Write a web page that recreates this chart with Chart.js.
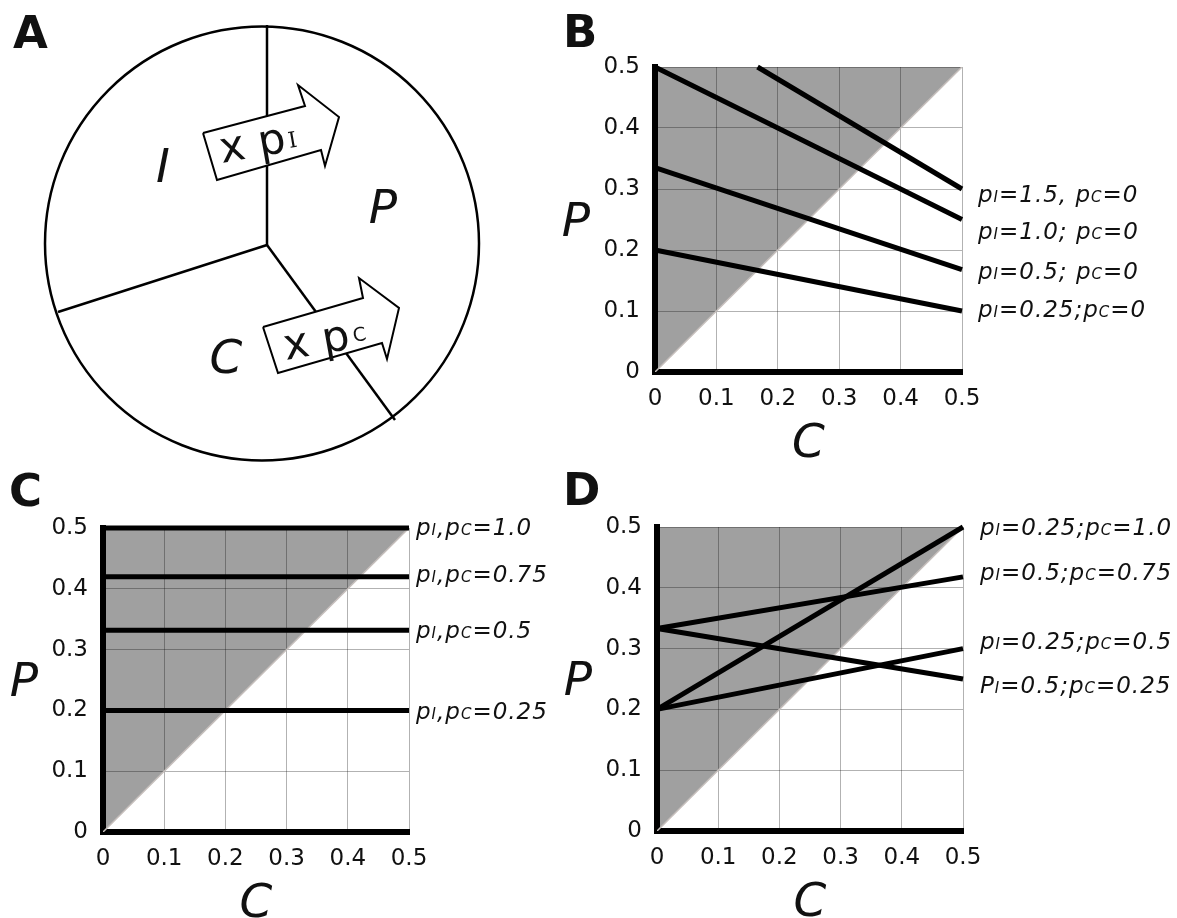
<!DOCTYPE html>
<html><head><meta charset="utf-8">
<script src="https://cdn.jsdelivr.net/npm/chart.js@4.4.1/dist/chart.umd.min.js"></script>
<style>
html,body{margin:0;padding:0;background:#fff;}
#wrap{position:relative;width:1177px;height:918px;overflow:hidden;background:#fff;}
canvas{position:absolute;left:0;top:0;}
</style></head><body>
<div id="wrap">
<canvas id="cA" width="1177" height="918"></canvas>
<canvas id="cB" width="1177" height="918"></canvas>
<canvas id="cC" width="1177" height="918"></canvas>
<canvas id="cD" width="1177" height="918"></canvas>
</div>
<script>
// ---------------- data ----------------
const tickValues = [0, 0.1, 0.2, 0.3, 0.4, 0.5];
const tickLabels = ['0', '0.1', '0.2', '0.3', '0.4', '0.5'];
const axisMin = 0, axisMax = 0.5;
const diagC = [0, 0.5];
const diagP = [0, 0.5];

// Panel B: p_C = 0, p_I varies
const bLabels = ['p_I=1.5, p_C=0', 'p_I=1.0; p_C=0', 'p_I=0.5; p_C=0', 'p_I=0.25;p_C=0'];
const bStartC = [0.167, 0, 0, 0];
const bStartP = [0.5, 0.5, 0.335, 0.2];
const bEndC = [0.5, 0.5, 0.5, 0.5];
const bEndP = [0.3, 0.25, 0.168, 0.1];

// Panel C: p_I = p_C
const cLabels = ['p_I,p_C=1.0', 'p_I,p_C=0.75', 'p_I,p_C=0.5', 'p_I,p_C=0.25'];
const cLevels = [0.5, 0.42, 0.332, 0.2];

// Panel D: mixed
const dLabels = ['p_I=0.25;p_C=1.0', 'p_I=0.5;p_C=0.75', 'p_I=0.25;p_C=0.5', 'P_I=0.5;p_C=0.25'];
const dStartP = [0.2, 0.333, 0.2, 0.333];
const dEndP = [0.5, 0.418, 0.3, 0.25];

// Panel A diagram geometry (page pixel units)
const circle = {x: 262, y: 243.5, r: 217};
const hub = {x: 267, y: 245};
const spokeEnds = [{x: 267, y: 25}, {x: 58, y: 312}, {x: 395, y: 420}];
const arrowI = [[203,133],[305,106],[298,85],[339,117],[325,166],[321,150],[217,180]];
const arrowC = [[263,327],[363,298],[359,278],[399,308],[387,359],[382,343],[278,373]];

// ---------------- helpers ----------------
const FONT = '"DejaVu Sans", Verdana, sans-serif';
const W = 1177, H = 918;
Chart.defaults.font.family = FONT;

function drawRich(ctx, str, x, y, size) {
  const runs = [];
  for (let i = 0; i < str.length; i++) {
    if (str[i] === '_') { runs.push({t: str[i + 1], sub: true}); i++; }
    else {
      const last = runs[runs.length - 1];
      if (last && !last.sub) last.t += str[i]; else runs.push({t: str[i], sub: false});
    }
  }
  ctx.textAlign = 'left'; ctx.textBaseline = 'alphabetic';
  try { ctx.letterSpacing = '1px'; } catch (e) {}
  for (const r of runs) {
    ctx.font = 'italic ' + (r.sub ? Math.round(size * 0.64) : size) + 'px ' + FONT;
    ctx.fillText(r.t, x, y);
    x += ctx.measureText(r.t).width;
  }
  try { ctx.letterSpacing = '0px'; } catch (e) {}
}

function pts(cs, ps) { return cs.map((c, i) => ({x: c, y: ps[i]})); }

function plotChart(id, box, lineData, labels, ends, dx, nudge, letter, letterXY) {
  const yW = 80, xH = 60;
  const datasets = lineData.map(d => ({
    type: 'line', data: d, borderColor: '#000', borderWidth: 5, pointRadius: 0,
    fill: false, tension: 0, borderCapStyle: 'butt', clip: 8
  }));
  datasets.push({
    type: 'line', data: pts(diagC, diagP), borderColor: '#c6bfbc', borderWidth: 1.5,
    pointRadius: 0, tension: 0, fill: 'end', backgroundColor: 'rgba(0,0,0,0.373)'
  });
  const scaleBase = {
    type: 'linear', min: axisMin, max: axisMax,
    afterBuildTicks: s => { s.ticks = tickValues.map(v => ({value: v})); },
    grid: {color: 'rgba(0,0,0,0.3)', lineWidth: 1, drawTicks: false},
    border: {display: true, color: '#000', width: 6}
  };
  const txt = {
    id: 'txt_' + id,
    afterDraw(chart) {
      const ctx = chart.ctx, a = chart.chartArea, ys = chart.scales.y;
      ctx.save();
      ctx.fillStyle = '#111';
      labels.forEach((t, i) => {
        const y = ys.getPixelForValue(ends[i]) + nudge[i];
        drawRich(ctx, t, a.right + dx, y + 8.4, 23);
      });
      ctx.font = 'italic 47px ' + FONT;
      ctx.textAlign = 'center'; ctx.textBaseline = 'alphabetic';
      ctx.fillText('C', (a.left + a.right) / 2, a.bottom + 85);
      ctx.fillText('P', a.left - 79, (a.top + a.bottom) / 2 + 16);
      ctx.font = 'bold 45px ' + FONT; ctx.textAlign = 'left';
      ctx.fillText(letter, letterXY[0], letterXY[1]);
      ctx.restore();
    }
  };
  return new Chart(document.getElementById(id), {
    type: 'line',
    data: {datasets},
    options: {
      responsive: false, animation: false, events: [],
      layout: {padding: {left: box.left - yW, right: W - box.right, top: box.top, bottom: H - box.bottom - xH}},
      plugins: {legend: {display: false}, tooltip: {enabled: false}},
      scales: {
        x: Object.assign({}, scaleBase, {
          afterFit: s => { s.height = xH; },
          ticks: {callback: (v, i) => tickLabels[i], font: {family: FONT, size: 23}, color: '#111',
                  padding: 13, maxRotation: 0, minRotation: 0, autoSkip: false}
        }),
        y: Object.assign({}, scaleBase, {
          afterFit: s => { s.width = yW; },
          ticks: {callback: (v, i) => tickLabels[i], font: {family: FONT, size: 23}, color: '#111', padding: 15}
        })
      }
    },
    plugins: [txt]
  });
}

// ---------------- panel B ----------------
plotChart('cB', {left: 655, right: 962, top: 67, bottom: 372},
  bStartC.map((c, i) => [{x: c, y: bStartP[i]}, {x: bEndC[i], y: bEndP[i]}]),
  bLabels, bEndP, 16, [5, 11, 1, -2.5], 'B', [563, 47]);

// ---------------- panel C ----------------
plotChart('cC', {left: 103, right: 409, top: 528, bottom: 832},
  cLevels.map(v => [{x: axisMin, y: v}, {x: axisMax, y: v}]),
  cLabels, cLevels, 7, [-1, -3, -1, 0], 'C', [9, 506]);

// ---------------- panel D ----------------
plotChart('cD', {left: 657, right: 963, top: 527, bottom: 831},
  dStartP.map((p, i) => [{x: axisMin, y: p}, {x: axisMax, y: dEndP[i]}]),
  dLabels, dEndP, 17, [0, -5, -8, 6], 'D', [563, 505]);

// ---------------- panel A ----------------
function poly(p) { const d = p.map(q => ({x: q[0], y: q[1]})); d.push({x: p[0][0], y: p[0][1]}); return d; }
const arrowStyle = {type: 'line', borderColor: '#000', borderWidth: 2, pointRadius: 0, tension: 0,
  fill: 'shape', backgroundColor: '#fff', borderJoinStyle: 'miter', clip: false};
const aText = {
  id: 'aText',
  afterDraw(chart) {
    const ctx = chart.ctx;
    ctx.save();
    ctx.fillStyle = '#111';
    ctx.textBaseline = 'alphabetic';
    ctx.font = 'bold 45px ' + FONT; ctx.textAlign = 'left';
    ctx.fillText('A', 13, 48);
    ctx.font = 'italic 47px ' + FONT; ctx.textAlign = 'center';
    ctx.fillText('I', 163, 182);
    ctx.fillText('P', 383, 223);
    ctx.fillText('C', 226, 373);
    ctx.textAlign = 'left';
    const arrowLabel = (x, y, sub, subFont, sx, sy) => {
      ctx.save(); ctx.translate(x, y); ctx.rotate(-10 * Math.PI / 180);
      ctx.font = '43px ' + FONT; ctx.fillText('x p', 0, 0);
      ctx.font = subFont; ctx.fillText(sub, sx, sy);
      ctx.restore();
    };
    arrowLabel(222, 163, 'I', '22px "DejaVu Serif", serif', 69, -3);
    arrowLabel(286, 360, 'C', '19px ' + FONT, 70, -6);
    ctx.restore();
  }
};
new Chart(document.getElementById('cA'), {
  type: 'scatter',
  data: {datasets: [
    Object.assign({data: poly(arrowI)}, arrowStyle),
    Object.assign({data: poly(arrowC)}, arrowStyle),
    ...spokeEnds.map(e => ({type: 'line', data: [hub, e], borderColor: '#000', borderWidth: 2.5,
      pointRadius: 0, tension: 0, fill: false, clip: false})),
    {type: 'bubble', data: [circle], borderColor: '#000', borderWidth: 2.5,
      backgroundColor: 'rgba(0,0,0,0)', clip: false}
  ]},
  options: {
    responsive: false, animation: false, events: [],
    layout: {padding: 0, autoPadding: false},
    plugins: {legend: {display: false}, tooltip: {enabled: false}},
    scales: {
      x: {type: 'linear', min: 0, max: W, display: false},
      y: {type: 'linear', min: 0, max: H, reverse: true, display: false}
    }
  },
  plugins: [aText]
});
</script>
</body></html>
